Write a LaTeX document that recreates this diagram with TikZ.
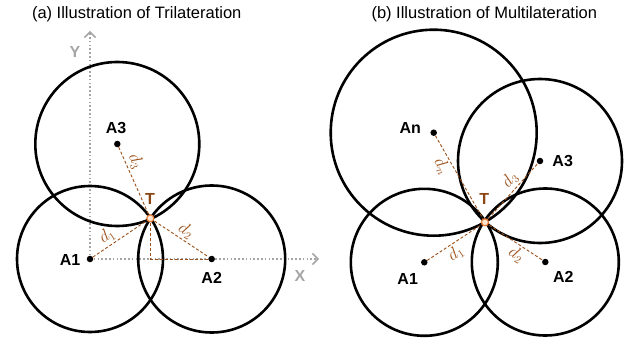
\documentclass[tikz,border=0pt]{standalone}
\usepackage{fontspec}
\setmainfont{Liberation Sans}
\usetikzlibrary{arrows.meta}
\definecolor{dbrown}{RGB}{156,80,24}
\definecolor{tbrown}{RGB}{140,70,20}
\definecolor{axgray}{RGB}{165,165,165}
\definecolor{torange}{RGB}{230,125,55}
\definecolor{tfill}{RGB}{252,228,208}
\begin{document}
\begin{tikzpicture}[x=1pt,y=1pt,
 ring/.style={draw=black,line width=2.6pt},
 anchorpt/.style={circle,fill=black,inner sep=0pt,minimum size=6.5pt},
 tpt/.style={circle,draw=torange,fill=tfill,line width=1.2pt,inner sep=0pt,minimum size=7pt},
 lbl/.style={font=\fontsize{16}{18}\selectfont\bfseries,inner sep=0pt},
 tlbl/.style={lbl,text=tbrown},
 axlbl/.style={lbl,text=axgray},
 dist/.style={draw=dbrown,line width=0.9pt,dash pattern=on 3pt off 2pt},
 dlab/.style={sloped,text=dbrown,font=\fontsize{16}{18}\selectfont,inner sep=2pt},
 axis/.style={draw=axgray,line width=1.6pt,dash pattern=on 1.6pt off 2.2pt,-{Straight Barb[length=5.5pt,width=11pt,line width=1.5pt]}},
 ttl/.style={font=\fontsize{16.5}{20}\selectfont,inner sep=0pt}]
\useasboundingbox (0,0) rectangle (636,-339);
% titles
\node[ttl] (ta) at (136.7,-14) {(a) Illustration of Trilateration};
\node[ttl] (tb) at (484.3,-14) {(b) Illustration of Multilateration};
% ---------- panel (a)
\coordinate (a1c) at (90,-259);
\coordinate (a2c) at (211.7,-259);
\coordinate (a3c) at (117.3,-144);
\coordinate (tac) at (150.3,-218.3);
\coordinate (foot) at (150.3,-259);
\coordinate (yend) at (90,-31);
\coordinate (xend) at (319,-259);
\draw[axis] (a1c) -- (yend);
\draw[axis] (a1c) -- (xend);
\node[axlbl] (ylab) at (75,-52) {Y};
\node[axlbl] (xlab) at (300,-276) {X};
\draw[ring] (a1c) circle[radius=73];
\draw[ring] (a2c) circle[radius=73.5];
\draw[ring] (a3c) circle[radius=82];
\node[anchorpt] (pa1) at (a1c) {};
\node[anchorpt] (pa2) at (a2c) {};
\node[anchorpt] (pa3) at (a3c) {};
\draw[dist] (pa1) -- node[dlab,pos=0.34,above]{$d_1$} (tac);
\draw[dist] (tac) -- node[dlab,pos=0.52,above]{$d_2$} (pa2);
\draw[dist] (pa3) -- node[dlab,pos=0.26,above]{$d_3$} (tac);
\draw[dist] (tac) -- (foot) -- (pa2);
\node[tpt] (pta) at (tac) {};
\node[lbl] (la1) at (70,-260) {A1};
\node[lbl] (la2) at (211.7,-278.3) {A2};
\node[lbl] (la3) at (116,-128.3) {A3};
\node[tlbl] (lta) at (150,-199.3) {T};
% ---------- panel (b)
\coordinate (bnc) at (433.7,-132.7);
\coordinate (b3c) at (540,-161);
\coordinate (b1c) at (424.3,-262.3);
\coordinate (b2c) at (545.3,-262);
\coordinate (tbc) at (485,-222.3);
\draw[ring] (bnc) circle[radius=103];
\draw[ring] (b3c) circle[radius=82];
\draw[ring] (b1c) circle[radius=73.5];
\draw[ring] (b2c) circle[radius=73.5];
\node[anchorpt] (pbn) at (bnc) {};
\node[anchorpt] (pb3) at (b3c) {};
\node[anchorpt] (pb1) at (b1c) {};
\node[anchorpt] (pb2) at (b2c) {};
\draw[dist] (pb1) -- node[dlab,pos=0.40,below]{$d_1$} (tbc);
\draw[dist] (tbc) -- node[dlab,pos=0.64,below]{$d_2$} (pb2);
\draw[dist] (tbc) -- node[dlab,pos=0.61,above]{$d_3$} (pb3);
\draw[dist] (pbn) -- node[dlab,pos=0.30,below]{$d_n$} (tbc);
\node[tpt] (ptb) at (tbc) {};
\node[lbl] (lbn) at (410.3,-128.3) {An};
\node[lbl] (lb3) at (562.7,-161) {A3};
\node[lbl] (lb1) at (407.7,-279.3) {A1};
\node[lbl] (lb2) at (563.3,-277.3) {A2};
\node[tlbl] (ltb) at (484.3,-199.3) {T};
\end{tikzpicture}
\end{document}
